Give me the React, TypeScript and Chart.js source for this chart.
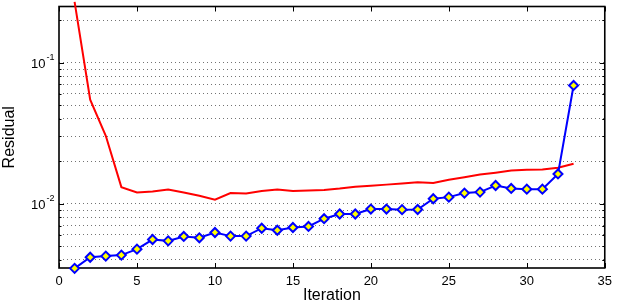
import React, { useEffect, useRef } from 'react';
import { Chart, registerables } from 'chart.js';

Chart.register(...registerables);

const iterations = [
  1, 2, 3, 4, 5, 6, 7, 8, 9, 10, 11, 12, 13, 14, 15, 16, 17,
  18, 19, 20, 21, 22, 23, 24, 25, 26, 27, 28, 29, 30, 31, 32, 33,
];

const blueResidual = [
  0.00348, 0.00417, 0.00425, 0.00432, 0.00476, 0.00557, 0.00545, 0.00586,
  0.00573, 0.00625, 0.00589, 0.00589, 0.0067, 0.00648, 0.00678, 0.0069,
  0.00783, 0.00845, 0.00845, 0.00916, 0.00916, 0.00907, 0.0091, 0.01084,
  0.01113, 0.01189, 0.01208, 0.01346, 0.01283, 0.01268, 0.01268, 0.01625,
  0.0689,
];

const redResidual = [
  0.27, 0.0546, 0.0303, 0.0131, 0.012, 0.0122, 0.0126, 0.012, 0.0114,
  0.01067, 0.0119, 0.0118, 0.0123, 0.0126, 0.0123, 0.0124, 0.0125, 0.0128,
  0.0132, 0.0134, 0.01365, 0.0139, 0.0142, 0.014, 0.0148, 0.0154, 0.0161,
  0.0166, 0.0172, 0.0174, 0.0175, 0.018, 0.0192,
];

const xTickValues = [0, 5, 10, 15, 20, 25, 30, 35];
const yTickValues = [
  0.004, 0.005, 0.006, 0.007, 0.008, 0.009, 0.01, 0.02, 0.03, 0.04, 0.05,
  0.06, 0.07, 0.08, 0.09, 0.1, 0.2,
];
const yLabelValues = [0.01, 0.1];
const yLabelExponents = ['-2', '-1'];

const X_MIN = 0;
const X_MAX = 35;
const Y_MIN = 0.0035;
const Y_MAX = 0.25;

const FONT = 'Arial, "Liberation Sans", Helvetica, sans-serif';

const framePlugin = {
  id: 'matlabFrame',
  beforeDatasetsDraw(chart: any) {
    const { ctx, chartArea, scales } = chart;
    const { left, right, top, bottom } = chartArea;
    const xs = scales.x;
    const ys = scales.y;
    ctx.save();
    ctx.strokeStyle = '#000';
    ctx.lineWidth = 1;
    ctx.beginPath();
    xs.ticks.forEach((t: any) => {
      const px = Math.round(xs.getPixelForValue(t.value)) + 0.5;
      ctx.moveTo(px, bottom);
      ctx.lineTo(px, bottom - 5);
      ctx.moveTo(px, top);
      ctx.lineTo(px, top + 5);
    });
    ys.ticks.forEach((t: any) => {
      const py = Math.round(ys.getPixelForValue(t.value)) + 0.5;
      const major = yLabelValues.includes(t.value);
      const len = major ? 5 : 2.5;
      ctx.moveTo(left, py);
      ctx.lineTo(left + len, py);
      ctx.moveTo(right, py);
      ctx.lineTo(right - len, py);
    });
    ctx.stroke();
    ctx.lineWidth = 1.6;
    ctx.strokeRect(left, top, right - left, bottom - top);

    // y tick labels: 10^{exp}
    ctx.fillStyle = '#000';
    yLabelValues.forEach((v, i) => {
      const py = ys.getPixelForValue(v);
      ctx.font = `13px ${FONT}`;
      ctx.textAlign = 'right';
      ctx.textBaseline = 'alphabetic';
      ctx.fillText('10', 45.5, py + 5.6);
      ctx.font = `9px ${FONT}`;
      ctx.textAlign = 'left';
      ctx.fillText(yLabelExponents[i], 46.5, py - 3);
    });
    ctx.restore();
  },
};

export default function App() {
  const canvasRef = useRef<HTMLCanvasElement | null>(null);

  useEffect(() => {
    const canvas = canvasRef.current;
    if (!canvas) return;
    const chart = new Chart(canvas, {
      type: 'line',
      data: {
        datasets: [
          {
            label: 'blue',
            data: iterations.map((x, i) => ({ x, y: blueResidual[i] })),
            borderColor: '#0000ff',
            borderWidth: 2,
            pointStyle: 'rectRot',
            pointRadius: 4.5,
            pointBorderWidth: 2,
            pointBackgroundColor: '#ffff00',
            pointBorderColor: '#0000ff',
            tension: 0,
            clip: false as any,
          },
          {
            label: 'red',
            data: iterations.map((x, i) => ({ x, y: redResidual[i] })),
            borderColor: '#ff0000',
            borderWidth: 2,
            pointRadius: 0,
            tension: 0,
            clip: false as any,
          },
        ],
      },
      options: {
        responsive: false,
        animation: false,
        devicePixelRatio: 1,
        layout: { padding: { top: 5, right: 7, left: 0, bottom: 0 } },
        plugins: {
          legend: { display: false },
          tooltip: { enabled: false },
        },
        scales: {
          x: {
            type: 'linear',
            min: X_MIN,
            max: X_MAX,
            afterBuildTicks: (scale: any) => {
              scale.ticks = xTickValues.map((v) => ({ value: v }));
            },
            afterFit: (scale: any) => {
              scale.height = 40;
            },
            grid: { display: false, drawTicks: false },
            border: { display: false },
            ticks: {
              color: '#000',
              padding: 6,
              maxRotation: 0,
              font: { family: FONT, size: 13 },
              callback: (v: any) => String(v),
            },
            title: {
              display: true,
              text: 'Iteration',
              color: '#000',
              font: { family: FONT, size: 16 },
              padding: { top: 0, bottom: 2.4 },
            },
          },
          y: {
            type: 'logarithmic',
            min: Y_MIN,
            max: Y_MAX,
            afterBuildTicks: (scale: any) => {
              scale.ticks = yTickValues.map((v) => ({ value: v }));
            },
            afterFit: (scale: any) => {
              scale.width = 59;
            },
            grid: {
              display: true,
              drawTicks: false,
              color: 'rgba(0,0,0,0.55)',
              lineWidth: 1,
            },
            border: { display: false, dash: [1, 3] },
            ticks: { display: false },
            title: {
              display: true,
              text: 'Residual',
              color: '#000',
              font: { family: FONT, size: 16 },
              padding: { top: 0, bottom: 0 },
            },
          },
        },
      },
      plugins: [framePlugin],
    });
    return () => chart.destroy();
  }, []);

  return (
    <div style={{ position: 'absolute', left: 0, top: 0, width: 618, height: 308, background: '#fff' }}>
      <canvas ref={canvasRef} width={618} height={308} style={{ display: 'block' }} />
    </div>
  );
}
